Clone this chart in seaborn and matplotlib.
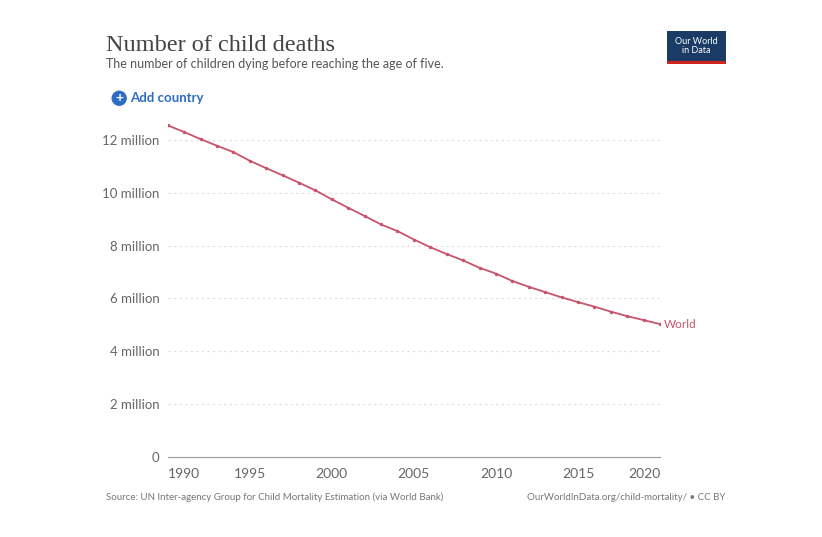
import matplotlib.pyplot as plt
import seaborn as sns
import pandas as pd
from matplotlib.ticker import FuncFormatter

years = list(range(1990, 2021))
deaths_million = [12.55, 12.30, 12.03, 11.78, 11.54, 11.21, 10.93, 10.66, 10.38, 10.09,
                  9.75, 9.43, 9.12, 8.80, 8.55, 8.23, 7.94, 7.68, 7.44, 7.16,
                  6.94, 6.66, 6.44, 6.24, 6.04, 5.86, 5.69, 5.50, 5.33, 5.18, 5.03]
x_ticks = [1990, 1995, 2000, 2005, 2010, 2015, 2020]
y_ticks = [0, 2, 4, 6, 8, 10, 12]

df = pd.DataFrame({"year": years, "deaths": [v * 1e6 for v in deaths_million]})

sns.set_theme(style="white")
plt.rcParams["font.family"] = ["Lato", "DejaVu Sans"]

line_color = "#c7546b"
grey = "#666666"

fig = plt.figure(figsize=(8.22, 5.37), dpi=100)
ax = fig.add_axes([0.204, 0.149, 0.599, 0.62])
sns.lineplot(data=df, x="year", y="deaths", ax=ax, color=line_color, linewidth=1.3,
             marker="o", markersize=2.5, markeredgewidth=0)

ax.set_xlim(1990, 2020)
ax.set_ylim(0, 12.6e6)
ax.set_yticks([v * 1e6 for v in y_ticks])
ax.yaxis.set_major_formatter(FuncFormatter(lambda v, p: "0" if v == 0 else f"{v/1e6:.0f} million"))
ax.set_xticks(x_ticks)
ax.set_xticklabels([str(t) for t in x_ticks])
labels = ax.get_xticklabels()
labels[0].set_ha("left")
labels[-1].set_ha("right")
ax.tick_params(axis="x", colors=grey, labelsize=10, length=5, width=0.8, direction="out", pad=3)
ax.tick_params(axis="y", colors=grey, labelsize=9.5, length=0, pad=6)
ax.grid(axis="y", color="#dddddd", linestyle=(0, (2, 3)), linewidth=0.8)
ax.set_xlabel("")
ax.set_ylabel("")
for s in ["top", "right", "left"]:
    ax.spines[s].set_visible(False)
ax.spines["bottom"].set_color("#999999")
ax.spines["bottom"].set_linewidth(0.8)

ax.text(2020.2, deaths_million[-1] * 1e6, "World", color=line_color, fontsize=8.5,
        va="center", ha="left")

fig.text(0.129, 0.905, "Number of child deaths", fontsize=17.5, color="#444444",
         family=["Liberation Serif", "DejaVu Serif"])
fig.text(0.129, 0.873, "The number of children dying before reaching the age of five.",
         fontsize=9, color="#555555")
fig.text(0.145, 0.817, "+", fontsize=10, color="white", fontweight="bold", ha="center", va="center",
         bbox=dict(boxstyle="circle,pad=0.12", fc="#2f6cc4", ec="none"))
fig.text(0.158, 0.817, "Add country", fontsize=9.5, color="#2f6cc4", fontweight="bold", va="center")
fig.text(0.129, 0.068, "Source: UN Inter-agency Group for Child Mortality Estimation (via World Bank)",
         fontsize=7, color="#777777")
fig.text(0.882, 0.068, "OurWorldInData.org/child-mortality/ \u2022 CC BY",
         fontsize=7, color="#777777", ha="right")

logo = fig.add_axes([0.812, 0.88, 0.071, 0.062])
logo.set_facecolor("#1a3b66")
logo.set_xticks([])
logo.set_yticks([])
for s in logo.spines.values():
    s.set_visible(False)
logo.axhline(0.03, color="#ce261e", linewidth=3)
logo.text(0.5, 0.55, "Our World\nin Data", color="white", fontsize=6.5, ha="center", va="center",
          linespacing=0.95, transform=logo.transAxes)

fig.savefig("out.png", dpi=100)
